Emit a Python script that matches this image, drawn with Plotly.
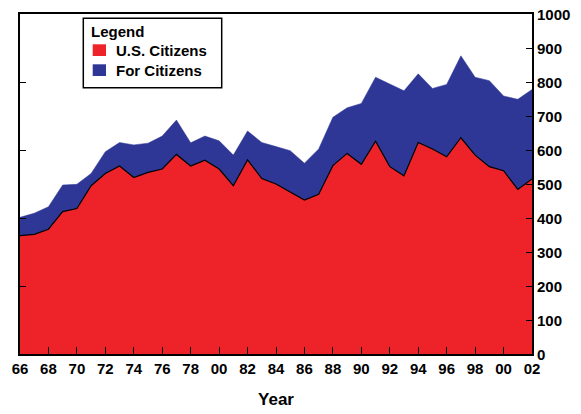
import plotly.graph_objects as go

years = list(range(1966, 2003))
us_citizens = [348, 352, 367, 419, 428, 495, 531, 553, 519, 534, 544, 587, 553, 570, 544, 495,
               571, 516, 500, 477, 453, 470, 554, 590, 558, 626, 551, 524, 622, 603, 580, 636,
               585, 551, 539, 484, 515]
total = [402, 414, 433, 497, 499, 531, 595, 622, 615, 620, 641, 688, 621, 641, 627, 585,
         656, 622, 610, 598, 561, 603, 696, 724, 737, 814, 794, 774, 824, 781, 793, 877,
         814, 804, 759, 749, 778]
tick_years = list(range(1966, 2003, 2))
tick_text = ["66", "68", "70", "72", "74", "76", "78", "00", "82", "84", "86", "88", "90",
             "92", "94", "96", "98", "00", "02"]
legend_title = "Legend"
series_names = ["U.S. Citizens", "For Citizens"]

RED = "#EE232A"
BLUE = "#2E3795"

# page body has an 8px default margin; figure is sized to compensate
W, H = 573, 406
L, R, T, B = 12, 49, 6, 60
PW, PH = W - L - R, H - T - B


def px(x):
    return (x - 20) / PW


def py(y):
    return (354 - y) / PH


fig = go.Figure()
fig.add_trace(go.Scatter(x=years, y=total, mode="lines", fill="tozeroy", fillcolor=BLUE,
                         line=dict(color=BLUE, width=0.5), showlegend=False, hoverinfo="skip",
                         name=series_names[1]))
fig.add_trace(go.Scatter(x=years, y=us_citizens, mode="lines", fill="tozeroy", fillcolor=RED,
                         line=dict(color="black", width=1.2), showlegend=False, hoverinfo="skip",
                         name=series_names[0]))
fig.add_trace(go.Scatter(x=[1966], y=[0], yaxis="y2", mode="markers", marker=dict(opacity=0),
                         showlegend=False, hoverinfo="skip"))

shapes = [
    dict(type="rect", xref="paper", yref="paper", x0=px(83.3), x1=px(221.7), y0=py(87.7), y1=py(18.3),
         fillcolor="white", line=dict(color="black", width=1.5), layer="above"),
    dict(type="rect", xref="paper", yref="paper", x0=px(92.7), x1=px(106), y0=py(56), y1=py(44.3),
         fillcolor=RED, line=dict(width=0), layer="above"),
    dict(type="rect", xref="paper", yref="paper", x0=px(92.7), x1=px(106), y0=py(76), y1=py(64.3),
         fillcolor=BLUE, line=dict(width=0), layer="above"),
]
annotations = [
    dict(text="<b>%s</b>" % legend_title, xref="paper", yref="paper", x=px(89), y=py(31),
         xanchor="left", yanchor="middle", showarrow=False, font=dict(size=15)),
    dict(text="<b>%s</b>" % series_names[0], xref="paper", yref="paper", x=px(114), y=py(50.5),
         xanchor="left", yanchor="middle", showarrow=False, font=dict(size=15)),
    dict(text="<b>%s</b>" % series_names[1], xref="paper", yref="paper", x=px(114), y=py(70.5),
         xanchor="left", yanchor="middle", showarrow=False, font=dict(size=15)),
]

fig.update_layout(
    width=W, height=H,
    margin=dict(l=L, r=R, t=T, b=B, autoexpand=False),
    paper_bgcolor="white", plot_bgcolor="white",
    font=dict(family="Liberation Sans, Arial, sans-serif", color="black", size=14),
    showlegend=False,
    shapes=shapes, annotations=annotations,
    xaxis=dict(range=[1966, 2002], tickvals=tick_years, ticktext=["<b>%s</b>" % t for t in tick_text],
               ticks="inside", ticklen=7, tickwidth=1, tickcolor="black",
               showline=True, linecolor="black", linewidth=2, mirror=True,
               showgrid=False, zeroline=False, automargin=False, ticklabeloverflow="allow",
               title=dict(text="<b>Year</b>", font=dict(size=17), standoff=17),
               tickfont=dict(size=15)),
    yaxis=dict(range=[0, 1000], dtick=100, side="right", ticks="inside", ticklen=6,
               tickwidth=1, tickcolor="black", showline=True, linecolor="black", linewidth=2,
               mirror=True, showgrid=False, zeroline=False, automargin=False,
               ticklabeloverflow="allow", ticklabelshift=1,
               tickprefix="<b>", ticksuffix="</b>", tickfont=dict(size=15)),
    yaxis2=dict(range=[0, 1000], dtick=200, side="left", overlaying="y", ticks="inside",
                ticklen=6, tickwidth=1, tickcolor="black", showticklabels=False,
                showgrid=False, zeroline=False, showline=False, automargin=False),
)

fig.write_html("out.html")
